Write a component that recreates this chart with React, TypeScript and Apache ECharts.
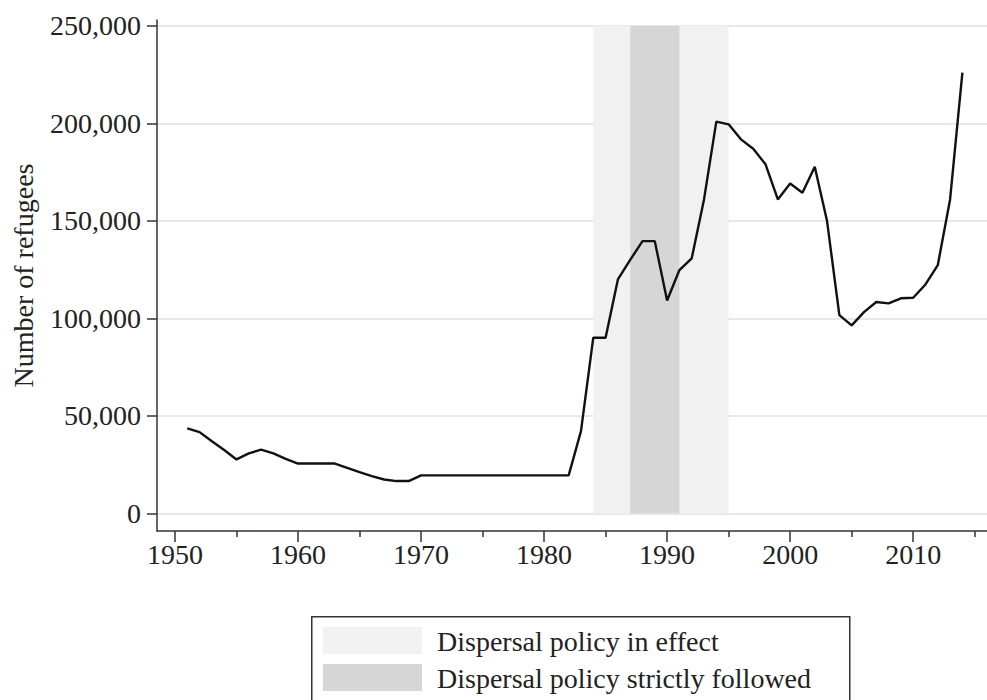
import React, { useEffect, useRef } from "react";
import * as echarts from "echarts";

const years = [
  1951, 1952, 1953, 1954, 1955, 1956, 1957, 1958, 1959, 1960,
  1961, 1962, 1963, 1964, 1965, 1966, 1967, 1968, 1969, 1970,
  1971, 1972, 1973, 1974, 1975, 1976, 1977, 1978, 1979, 1980,
  1981, 1982, 1983, 1984, 1985, 1986, 1987, 1988, 1989, 1990,
  1991, 1992, 1993, 1994, 1995, 1996, 1997, 1998, 1999, 2000,
  2001, 2002, 2003, 2004, 2005, 2006, 2007, 2008, 2009, 2010,
  2011, 2012, 2013, 2014,
];

const refugees = [
  43600, 41700, 37000, 32500, 27700, 30800, 32700, 30800, 28000, 25600,
  25600, 25600, 25600, 23400, 21200, 19100, 17400, 16600, 16600, 19500,
  19500, 19500, 19500, 19500, 19500, 19500, 19500, 19500, 19500, 19500,
  19500, 19500, 42200, 90100, 90100, 120000, 130000, 139600, 139600, 109200,
  124800, 130800, 161000, 200900, 199500, 191800, 187000, 179000, 161000, 169200,
  164400, 177800, 149900, 101700, 96400, 103200, 108400, 107700, 110300, 110600,
  117400, 127300, 161000, 226000,
];

const yTicks = [0, 50000, 100000, 150000, 200000, 250000];
const xLabelYears = [1950, 1960, 1970, 1980, 1990, 2000, 2010];
const xMinorYears = [1955, 1965, 1975, 1985, 1995, 2005, 2015];
const policyInEffect = [1984, 1995];
const policyStrict = [1987, 1991];
const legendNames = ["Dispersal policy in effect", "Dispersal policy strictly followed"];
const yTitle = "Number of refugees";

const FONT = "'Liberation Serif', 'Times New Roman', serif";
const AXIS_COLOR = "#333";
const TEXT_COLOR = "#222";
const LIGHT = "#f1f1f1";
const DARK = "#d6d6d6";
const FS = 28;

const fmt = (v: number) => String(v).replace(/\B(?=(\d{3})+(?!\d))/g, ",");

export default function App() {
  const ref = useRef<HTMLDivElement>(null);

  useEffect(() => {
    if (!ref.current) return;
    const chart = echarts.init(ref.current, null, { renderer: "svg" });
    const axisLineStyle = { color: AXIS_COLOR, width: 1.5 };

    const legendColors = [LIGHT, DARK];
    const legendGraphics: any[] = [
      {
        type: "rect",
        left: 311,
        top: 616,
        shape: { width: 538, height: 100 },
        style: { fill: "#fff", stroke: AXIS_COLOR, lineWidth: 1.5 },
        z: 10,
      },
    ];
    legendNames.forEach((name, i) => {
      legendGraphics.push({
        type: "rect",
        left: 323,
        top: 627 + i * 37,
        shape: { width: 99, height: 27 },
        style: { fill: legendColors[i] },
        z: 11,
      });
      legendGraphics.push({
        type: "text",
        x: 437,
        y: 627 + i * 37 + 14,
        style: {
          text: name,
          fill: TEXT_COLOR,
          font: `${FS}px ${FONT}`,
          align: "left",
          verticalAlign: "middle",
        },
        z: 11,
      });
    });

    const option: any = {
      animation: false,
      backgroundColor: "#ffffff",
      textStyle: { fontFamily: FONT },
      grid: { left: 157, right: 0, top: 20, bottom: 169, containLabel: false },
      xAxis: [
        {
          type: "value",
          min: 1948.54,
          max: 2016,
          position: "bottom",
          axisLine: { show: true, onZero: false, lineStyle: axisLineStyle },
          axisTick: { show: true, customValues: xLabelYears, length: 11, lineStyle: axisLineStyle },
          axisLabel: {
            customValues: xLabelYears,
            fontSize: FS,
            fontFamily: FONT,
            color: TEXT_COLOR,
            margin: 9,
            formatter: (v: number) => String(v),
          },
          splitLine: { show: false },
        },
        {
          type: "value",
          min: 1948.54,
          max: 2016,
          position: "bottom",
          axisLine: { show: false, onZero: false },
          axisTick: { show: true, customValues: xMinorYears, length: 6, lineStyle: axisLineStyle },
          axisLabel: { show: false },
          splitLine: { show: false },
        },
      ],
      yAxis: {
        type: "value",
        min: -9000,
        max: 253000,
        axisLine: { show: true, onZero: false, lineStyle: axisLineStyle },
        axisTick: { show: true, customValues: yTicks, length: 10, lineStyle: axisLineStyle },
        axisLabel: {
          customValues: yTicks,
          fontSize: FS,
          fontFamily: FONT,
          color: TEXT_COLOR,
          margin: 16,
          formatter: (v: number) => fmt(v),
        },
        splitLine: { show: false },
        name: yTitle,
        nameLocation: "middle",
        nameRotate: 90,
        nameGap: 120,
        nameTextStyle: { fontSize: FS, fontFamily: FONT, color: TEXT_COLOR },
      },
      graphic: legendGraphics,
      series: [
        {
          type: "line",
          name: "grid",
          data: [],
          silent: true,
          markLine: {
            z: 0,
            silent: true,
            symbol: "none",
            label: { show: false },
            lineStyle: { color: "#e2eaed", width: 2, type: "solid" },
            emphasis: { disabled: true },
            data: yTicks.map((v) => ({ yAxis: v })),
          },
        },
        {
          type: "line",
          name: legendNames[0],
          data: [],
          markArea: {
            z: 1,
            silent: true,
            itemStyle: { color: LIGHT },
            data: [[
              { xAxis: policyInEffect[0], yAxis: yTicks[0] },
              { xAxis: policyInEffect[1], yAxis: yTicks[yTicks.length - 1] },
            ]],
          },
        },
        {
          type: "line",
          name: legendNames[1],
          data: [],
          markArea: {
            z: 1,
            silent: true,
            itemStyle: { color: DARK },
            data: [[
              { xAxis: policyStrict[0], yAxis: yTicks[0] },
              { xAxis: policyStrict[1], yAxis: yTicks[yTicks.length - 1] },
            ]],
          },
        },
        {
          type: "line",
          name: "Refugees",
          z: 3,
          data: years.map((y, i) => [y, refugees[i]]),
          showSymbol: false,
          symbol: "none",
          lineStyle: { color: "#111", width: 2.4 },
          itemStyle: { color: "#111" },
        },
      ],
    };
    chart.setOption(option);
    return () => chart.dispose();
  }, []);

  return (
    <div
      ref={ref}
      style={{ position: "fixed", left: 0, top: 0, width: 987, height: 700, background: "#fff" }}
    />
  );
}
